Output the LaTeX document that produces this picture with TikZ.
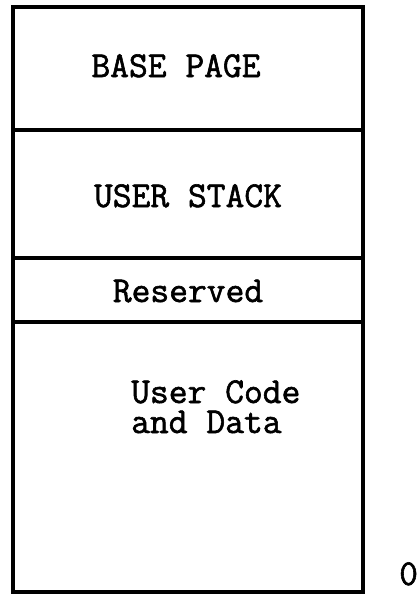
\documentclass[tikz,border=0pt]{standalone}
\usepackage{fontspec}
\newfontfamily\memfont[FakeBold=1.6]{Latin Modern Mono}
\begin{document}
\begin{tikzpicture}[x=1pt,y=-1pt,
  lbl/.style={font=\memfont\fontsize{36.5}{30}\selectfont, inner sep=0pt},
  wall/.style={line width=3.4pt}]
\useasboundingbox (0,0) rectangle (419,595);
% memory block and its dividers
\draw [wall] (13,7) rectangle (363,592);
\draw [wall] (13,130) -- (363,130);
\draw [wall] (13,258) -- (363,258);
\draw [wall] (13,322) -- (363,322);
% section names
\node [lbl, anchor=base] (base) at (176,77) {BASE PAGE};
\node [lbl, anchor=base] (stack) at (188,207) {USER STACK};
\node [lbl, anchor=base] (rsvd) at (188,302) {Reserved};
\node [lbl, anchor=base west, align=left] (code) at (131,433) {User Code\\and Data};
\node [lbl, anchor=base west] (zero) at (399,585) {0};
\end{tikzpicture}
\end{document}
